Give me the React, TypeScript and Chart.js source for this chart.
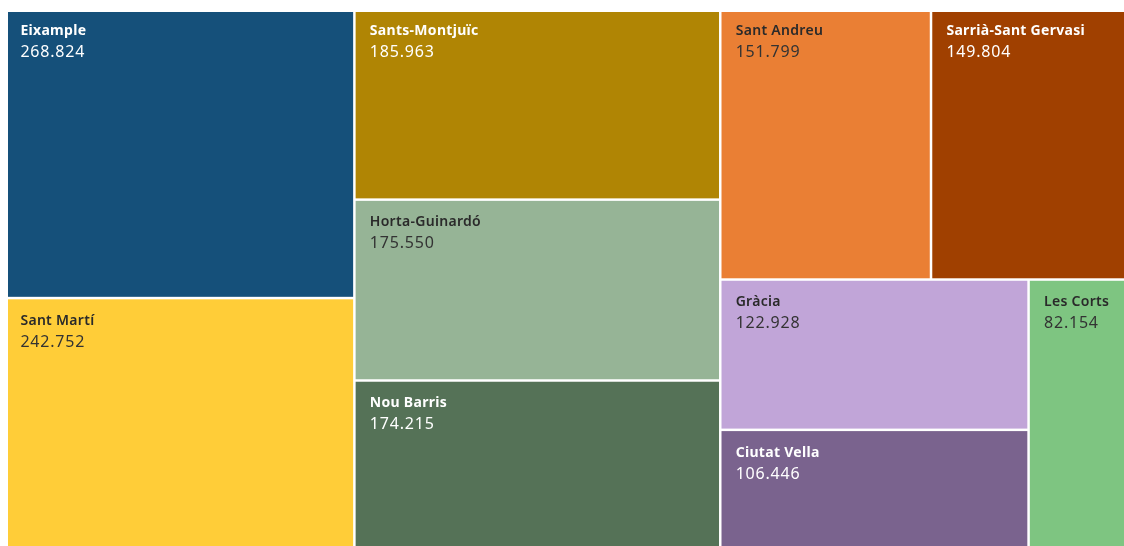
import React, { useEffect, useRef } from "react";
import { Chart, registerables } from "chart.js";

Chart.register(...registerables);

// ---- Data ----
const districts: string[] = [
  "Eixample",
  "Sant Martí",
  "Sants-Montjuïc",
  "Horta-Guinardó",
  "Nou Barris",
  "Sant Andreu",
  "Sarrià-Sant Gervasi",
  "Gràcia",
  "Ciutat Vella",
  "Les Corts",
];
const populations: number[] = [
  268824, 242752, 185963, 175550, 174215, 151799, 149804, 122928, 106446, 82154,
];
const fillColors: string[] = [
  "#15507a",
  "#ffcd38",
  "#b08504",
  "#96b496",
  "#557257",
  "#ea7f34",
  "#a04000",
  "#c1a5d8",
  "#7a638e",
  "#7ec581",
];
const darkText: boolean[] = [false, true, false, true, false, true, false, true, false, true];

const formatNumber = (v: number): string =>
  String(Math.round(v)).replace(/\B(?=(\d{3})+(?!\d))/g, ".");

type Cell = { i: number; x0: number; y0: number; x1: number; y1: number };

// d3-style squarified treemap (golden ratio)
function squarify(values: number[], x0: number, y0: number, x1: number, y1: number): Cell[] {
  const ratio = (1 + Math.sqrt(5)) / 2;
  const out: Cell[] = [];
  const n = values.length;
  let value = values.reduce((a, b) => a + b, 0);
  let i0 = 0;
  let i1 = 0;
  while (i0 < n) {
    const dx = x1 - x0;
    const dy = y1 - y0;
    let sumValue = values[i1++];
    let minValue = sumValue;
    let maxValue = sumValue;
    const alpha = Math.max(dy / dx, dx / dy) / (value * ratio);
    let beta = sumValue * sumValue * alpha;
    let minRatio = Math.max(maxValue / beta, beta / minValue);
    for (; i1 < n; ++i1) {
      const nv = values[i1];
      sumValue += nv;
      if (nv < minValue) minValue = nv;
      if (nv > maxValue) maxValue = nv;
      beta = sumValue * sumValue * alpha;
      const newRatio = Math.max(maxValue / beta, beta / minValue);
      if (newRatio > minRatio) {
        sumValue -= nv;
        break;
      }
      minRatio = newRatio;
    }
    const dice = dx < dy;
    if (dice) {
      const yb = y0 + (dy * sumValue) / value;
      let x = x0;
      for (let k = i0; k < i1; k++) {
        const w = (dx * values[k]) / sumValue;
        out.push({ i: k, x0: x, y0: y0, x1: x + w, y1: yb });
        x += w;
      }
      y0 = yb;
    } else {
      const xb = x0 + (dx * sumValue) / value;
      let y = y0;
      for (let k = i0; k < i1; k++) {
        const h = (dy * values[k]) / sumValue;
        out.push({ i: k, x0: x0, y0: y, x1: xb, y1: y + h });
        y += h;
      }
      x0 = xb;
    }
    value -= sumValue;
    i0 = i1;
  }
  return out;
}

const treemapPlugin = {
  id: "treemapPlugin",
  afterDraw(chart: any) {
    const ctx: CanvasRenderingContext2D = chart.ctx;
    const xs = chart.scales.x;
    const ys = chart.scales.y;
    const X0 = xs.getPixelForValue(0);
    const X1 = xs.getPixelForValue(1);
    const Y0 = ys.getPixelForValue(1);
    const Y1 = ys.getPixelForValue(0);
    const cells = squarify(populations, X0, Y0, X1, Y1);
    const inset = 1.25;
    ctx.save();
    for (const c of cells) {
      ctx.fillStyle = fillColors[c.i];
      ctx.fillRect(c.x0 + inset, c.y0 + inset, c.x1 - c.x0 - 2 * inset, c.y1 - c.y0 - 2 * inset);
    }
    for (const c of cells) {
      const dark = darkText[c.i];
      const tx = c.x0 + 15.4;
      ctx.textAlign = "left";
      ctx.textBaseline = "alphabetic";
      (ctx as any).letterSpacing = "0.3px";
      ctx.font = `${dark ? 600 : 700} 14px "Noto Sans", sans-serif`;
      ctx.fillStyle = dark ? "#2a2a2a" : "#ffffff";
      ctx.fillText(districts[c.i], tx, c.y0 + 26.8);
      (ctx as any).letterSpacing = "0.8px";
      ctx.font = `400 16px "Noto Sans", sans-serif`;
      ctx.fillStyle = dark ? "#333333" : "#ffffff";
      ctx.fillText(formatNumber(populations[c.i]), tx, c.y0 + 48.8);
    }
    ctx.restore();
  },
};

export default function App() {
  const ref = useRef<HTMLCanvasElement | null>(null);
  useEffect(() => {
    if (!ref.current) return;
    const chart = new Chart(ref.current, {
      type: "scatter",
      data: {
        datasets: [
          {
            label: "Població",
            data: [],
          },
        ],
      },
      options: {
        animation: false,
        responsive: false,
        layout: { padding: 0 },
        plugins: {
          legend: { display: false },
          tooltip: { enabled: false },
          title: { display: false },
        },
        scales: {
          x: { type: "linear", min: 0, max: 1, display: false },
          y: { type: "linear", min: 0, max: 1, display: false },
        },
      },
      plugins: [treemapPlugin],
    });
    return () => chart.destroy();
  }, []);

  return (
    <div
      style={{
        position: "fixed",
        left: 0,
        top: 0,
        width: 1124,
        height: 546,
        overflow: "hidden",
        background: "#ffffff",
      }}
    >
      <div
        style={{
          position: "absolute",
          left: 8,
          top: 12,
          right: 0,
          bottom: 0,
          overflow: "hidden",
        }}
      >
        <canvas
          ref={ref}
          width={1134}
          height={552}
          style={{ position: "absolute", left: -3, top: -4, width: 1134, height: 552 }}
        />
      </div>
    </div>
  );
}
